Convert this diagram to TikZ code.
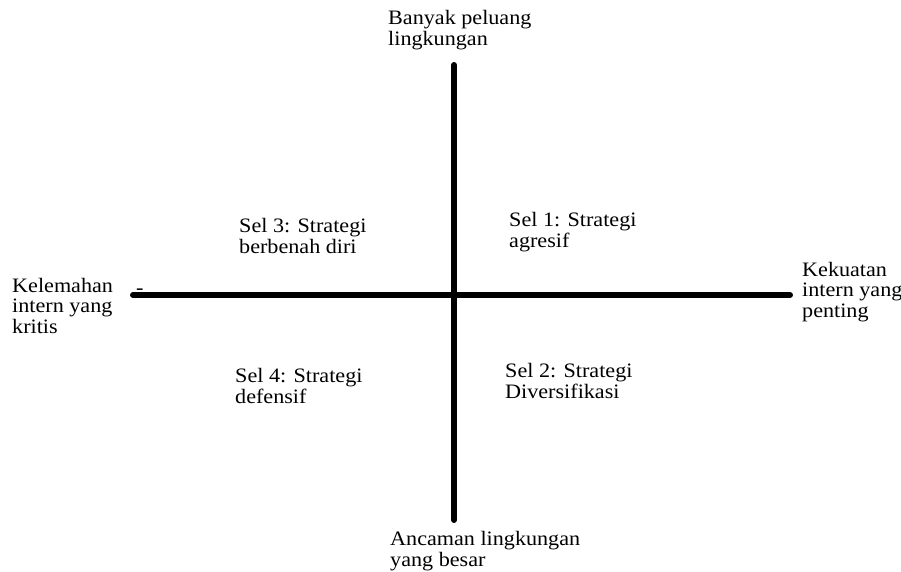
\documentclass[tikz,border=0pt]{standalone}
\usepackage{fontspec}
\setmainfont{Liberation Serif}[FakeStretch=1.08]
\begin{document}
\begin{tikzpicture}[x=1pt,y=-1pt,
  lbl/.style={anchor=base west,inner sep=0pt,align=left,
    font=\fontsize{20.5}{20.5}\selectfont},
  axis/.style={line width=6pt,line cap=round}]
\useasboundingbox[fill=white] (0,0) rectangle (901,571);
\coordinate (top) at (454,65);
\coordinate (bottom) at (454,520);
\coordinate (left) at (133,295);
\coordinate (right) at (790,295);
\draw[axis] (top) -- (bottom);
\draw[axis] (left) -- (right);
\node[lbl] (up) at (388,45) {Banyak peluang\\lingkungan};
\node[lbl] (down) at (390,566) {Ancaman lingkungan\\yang besar};
\node[lbl] (weak) at (12,333) {Kelemahan\\intern yang\\kritis};
\node[lbl] (strong) at (802,317) {Kekuatan\\intern yang\\penting};
\node[lbl] (s1) at (509,247) {Sel 1: Strategi\\agresif};
\node[lbl] (s3) at (239,253) {Sel 3: Strategi\\berbenah diri};
\node[lbl] (s4) at (235,403) {Sel 4: Strategi\\defensif};
\node[lbl] (s2) at (505,398) {Sel 2: Strategi\\Diversifikasi};
\node[lbl] (dash) at (136,294) {-};
\end{tikzpicture}
\end{document}
